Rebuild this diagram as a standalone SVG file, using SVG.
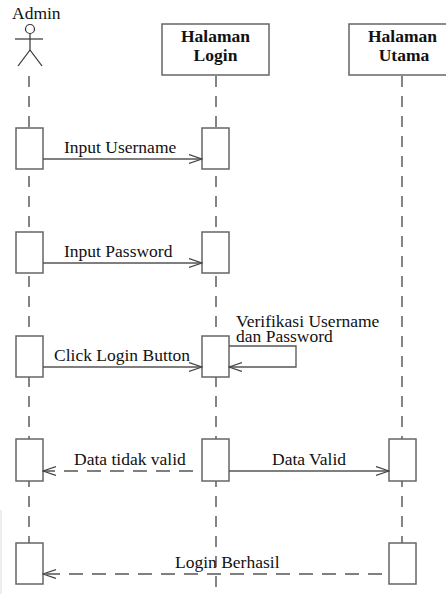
<svg xmlns="http://www.w3.org/2000/svg" width="446" height="594" viewBox="0 0 446 594">
<defs>
<style>
text{font-family:"Liberation Serif","Times New Roman",serif;font-size:17.5px;fill:#111}
.title{font-weight:bold;text-anchor:middle}
.life{stroke:#444;stroke-width:1.3;stroke-dasharray:11 9;fill:none}
.box{fill:#fff;stroke:#666;stroke-width:1.5}
.msg{stroke:#555;stroke-width:1.3;fill:none}
.ret{stroke:#555;stroke-width:1.3;fill:none;stroke-dasharray:14 9}
</style>
<marker id="arr" markerUnits="userSpaceOnUse" markerWidth="14" markerHeight="12" refX="13" refY="5" orient="auto">
<path d="M0,0.5 L13,5 L0,9.5" fill="none" stroke="#444" stroke-width="1.2"/>
</marker>
</defs>
<rect x="0" y="510" width="2" height="84" fill="#eee"/>
<g id="lifelines">
<line class="life" x1="29" y1="76" x2="29" y2="543"/>
<line class="life" x1="216" y1="76" x2="216" y2="594"/>
<line class="life" x1="402" y1="76" x2="402" y2="543"/>
</g>
<g id="admin">
<text x="12" y="19">Admin</text>
<g stroke="#333" stroke-width="1.2" fill="none">
<circle cx="30" cy="29" r="4.5"/>
<line x1="15" y1="39" x2="43" y2="39"/>
<line x1="30" y1="33.5" x2="30" y2="50"/>
<line x1="30" y1="50" x2="18" y2="66"/>
<line x1="30" y1="50" x2="42" y2="66"/>
</g>
</g>
<g id="halaman-login">
<rect class="box" x="162" y="24" width="107" height="51"/>
<text class="title" x="215.5" y="42">Halaman</text>
<text class="title" x="215.5" y="61">Login</text>
</g>
<g id="halaman-utama">
<rect class="box" x="349" y="24" width="107" height="51"/>
<text class="title" x="402.5" y="42">Halaman</text>
<text class="title" x="404" y="61">Utama</text>
</g>
<g id="activations">
<rect class="box" x="16" y="128" width="27" height="41"/>
<rect class="box" x="202" y="128" width="27" height="41"/>
<rect class="box" x="16" y="232" width="27" height="41"/>
<rect class="box" x="202" y="232" width="27" height="41"/>
<rect class="box" x="16" y="336" width="27" height="41"/>
<rect class="box" x="202" y="336" width="27" height="41"/>
<rect class="box" x="16" y="439" width="27" height="42"/>
<rect class="box" x="202" y="439" width="27" height="42"/>
<rect class="box" x="389" y="439" width="27" height="42"/>
<rect class="box" x="16" y="543" width="27" height="41"/>
<rect class="box" x="389" y="543" width="27" height="41"/>
</g>
<g id="connectors">
<line class="msg" x1="43" y1="159" x2="202" y2="159" marker-end="url(#arr)"/>
<line class="msg" x1="43" y1="263" x2="202" y2="263" marker-end="url(#arr)"/>
<line class="msg" x1="43" y1="367" x2="202" y2="367" marker-end="url(#arr)"/>
<polyline class="msg" points="229,346 296,346 296,367 229,367" marker-end="url(#arr)"/>
<line class="ret" x1="193" y1="471" x2="43" y2="471" marker-end="url(#arr)"/>
<line class="msg" x1="229" y1="471" x2="389" y2="471" marker-end="url(#arr)"/>
<line class="ret" x1="382" y1="574" x2="43" y2="574" marker-end="url(#arr)"/>
</g>
<g id="labels">
<text x="64" y="153">Input Username</text>
<text x="64" y="257">Input Password</text>
<text x="54" y="361">Click Login Button</text>
<text x="236" y="327">Verifikasi Username</text>
<text x="236" y="342">dan Password</text>
<text x="74" y="465">Data tidak valid</text>
<text x="272" y="465">Data Valid</text>
<text x="175" y="568">Login Berhasil</text>
</g>
</svg>
